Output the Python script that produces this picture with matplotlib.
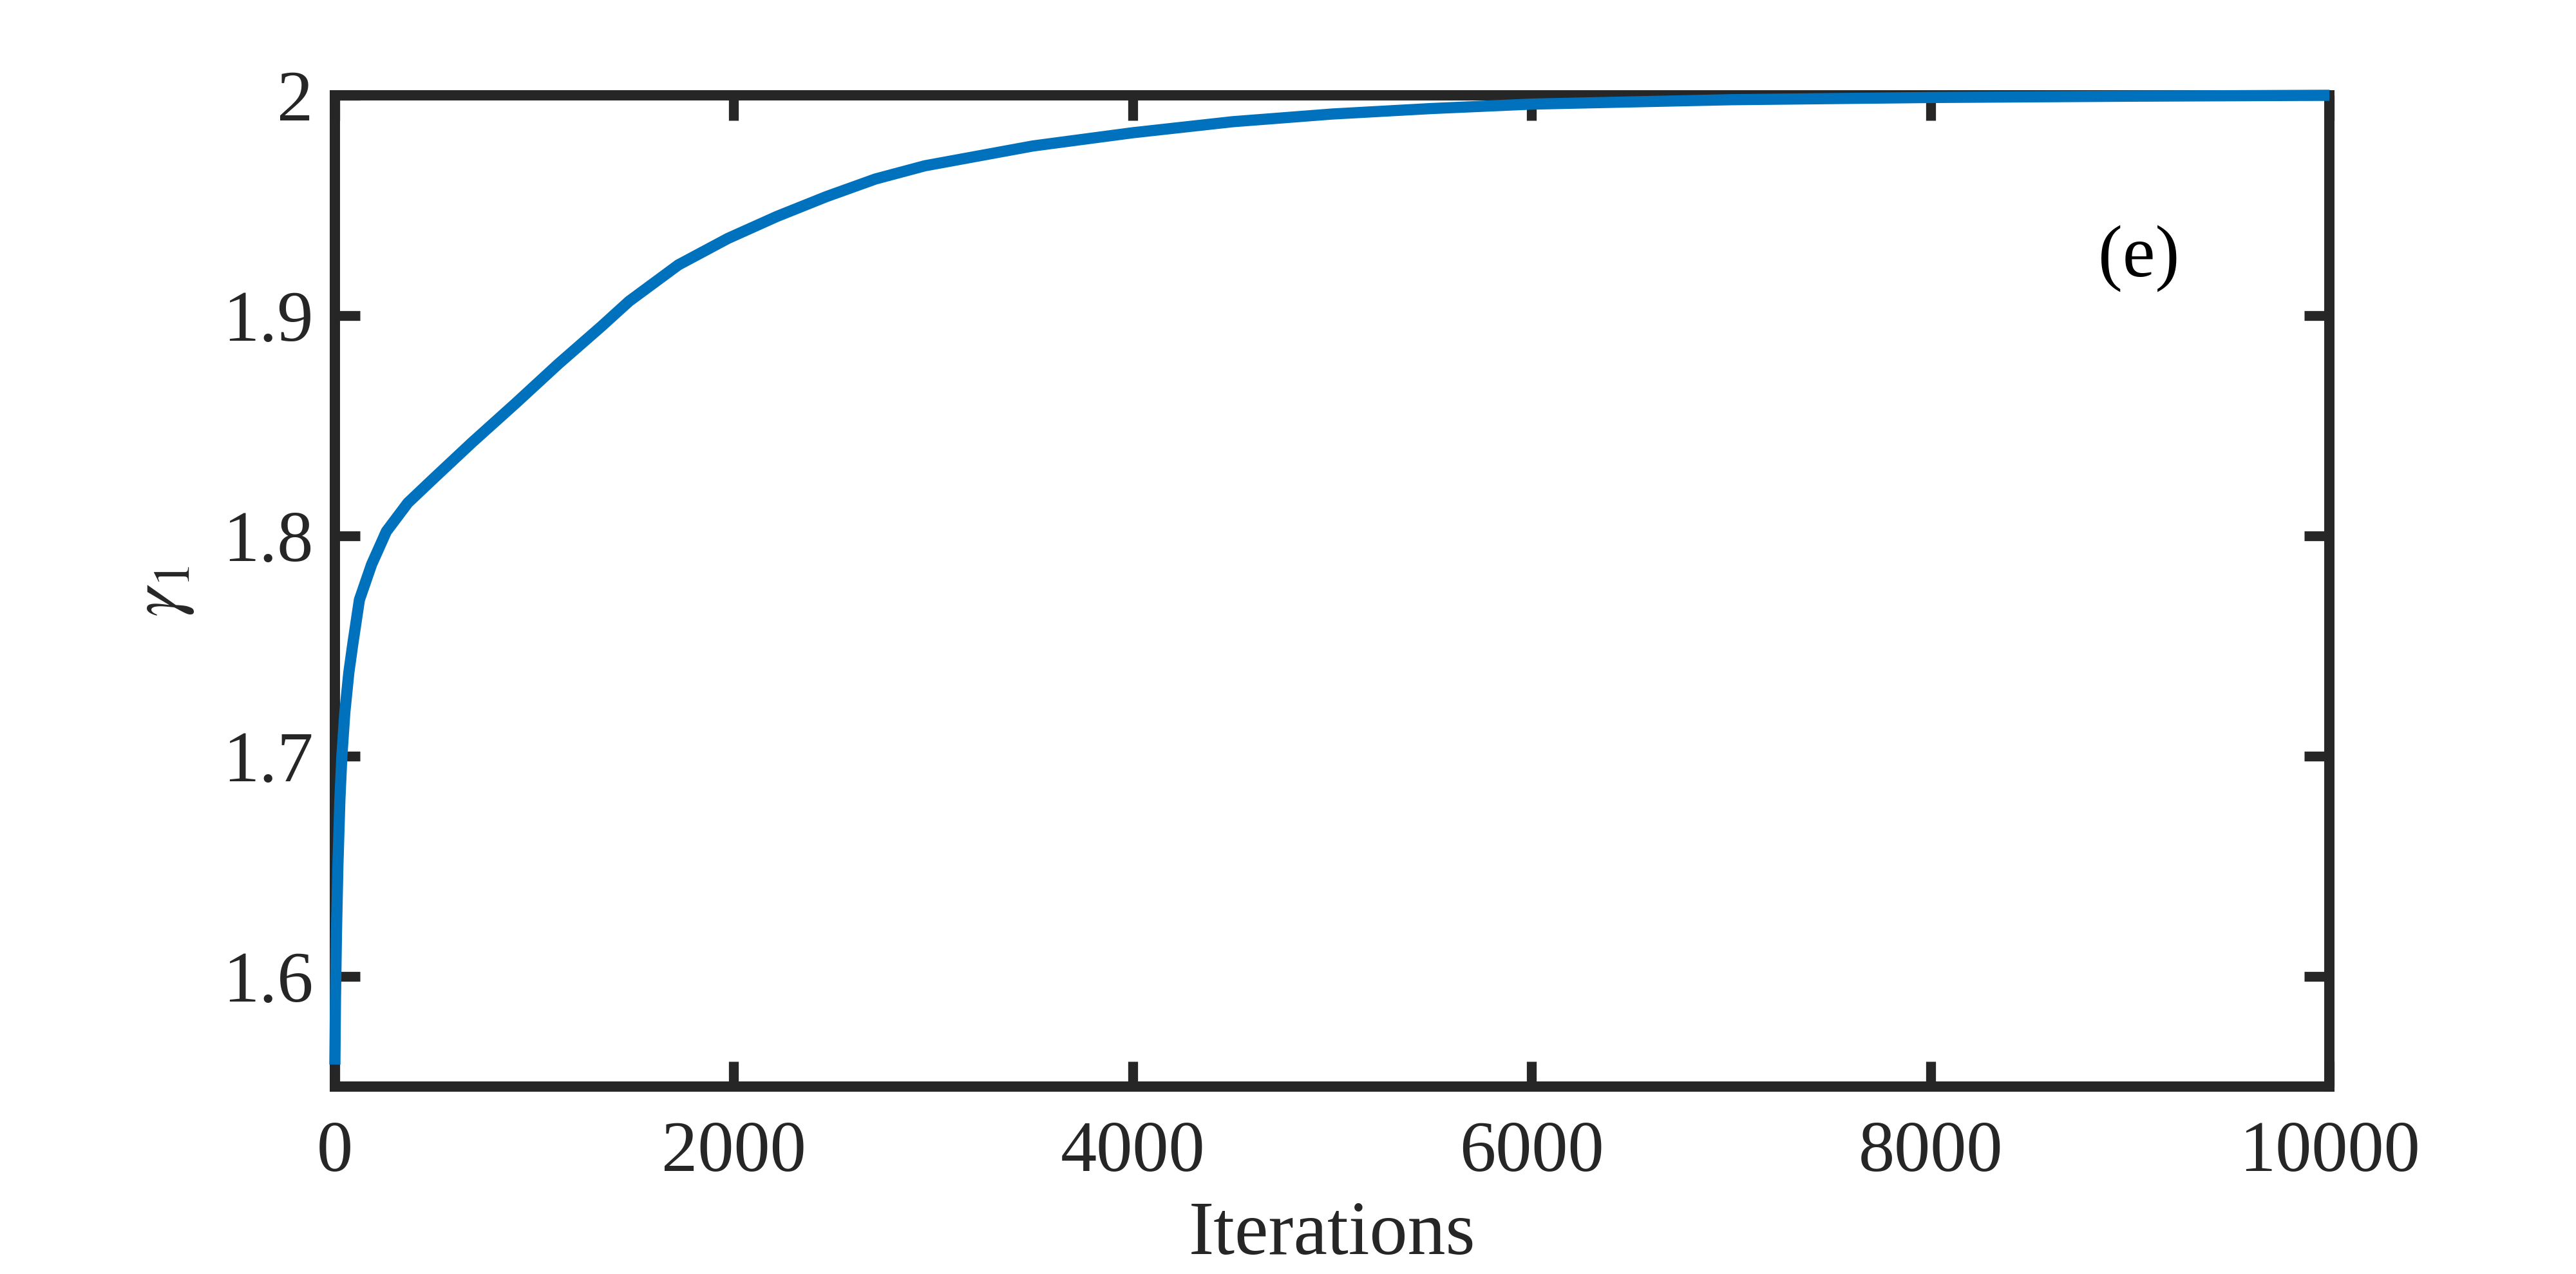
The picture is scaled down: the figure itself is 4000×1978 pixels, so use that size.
import numpy as np
import matplotlib.pyplot as plt

# values
iterations = [0, 3, 8, 15, 25, 35, 50, 70, 90, 123, 184, 258, 366, 506, 689, 904,
              1120, 1335, 1475, 1722, 1970, 2216, 2464, 2710, 2958, 3500, 4000,
              4500, 5000, 5500, 6000, 7000, 8000, 9000, 10000]
gamma1 = [1.56, 1.59, 1.62, 1.65, 1.68, 1.70, 1.72, 1.738, 1.751, 1.771, 1.787,
          1.802, 1.815, 1.827, 1.8425, 1.860, 1.878, 1.895, 1.9065, 1.923, 1.935,
          1.945, 1.954, 1.962, 1.968, 1.977, 1.983, 1.988, 1.9915, 1.994, 1.996,
          1.998, 1.999, 1.9996, 2.0]

x_ticks = [0, 2000, 4000, 6000, 8000, 10000]
y_ticks = [1.6, 1.7, 1.8, 1.9, 2.0]
y_ticklabels = ['1.6', '1.7', '1.8', '1.9', '2']

plt.rcParams['font.family'] = ['Liberation Serif', 'DejaVu Serif']
plt.rcParams['mathtext.fontset'] = 'stix'
dark = '#262626'

fig = plt.figure(figsize=(40, 19.78), dpi=100)
ax = fig.add_axes([0.13, 0.1471, 0.7743, 0.7781])

ax.plot(iterations, gamma1, color='#0072BD', lw=12.5, clip_on=False, zorder=3,
        solid_capstyle='butt', solid_joinstyle='round')

ax.set_xlim(0, 10000)
ax.set_ylim(1.55, 2.0)
ax.set_xticks(x_ticks)
ax.set_xticklabels([str(v) for v in x_ticks])
ax.set_yticks(y_ticks)
ax.set_yticklabels(y_ticklabels)

for s in ax.spines.values():
    s.set_linewidth(11.5)
    s.set_color(dark)
ax.tick_params(direction='in', length=28, width=11, color=dark, labelcolor=dark,
               labelsize=81, top=True, right=True)
ax.tick_params(axis='x', pad=38)
ax.tick_params(axis='y', pad=24)

ax.set_xlabel('Iterations', fontsize=85, color=dark, labelpad=16)
ax.set_ylabel(r'$\gamma_1$', fontsize=82, color=dark, labelpad=30)

ax.text(9044, 1.926, '(e)', fontsize=82, color='black', ha='center', va='center')

fig.savefig('out.png', dpi=100, facecolor='white')
